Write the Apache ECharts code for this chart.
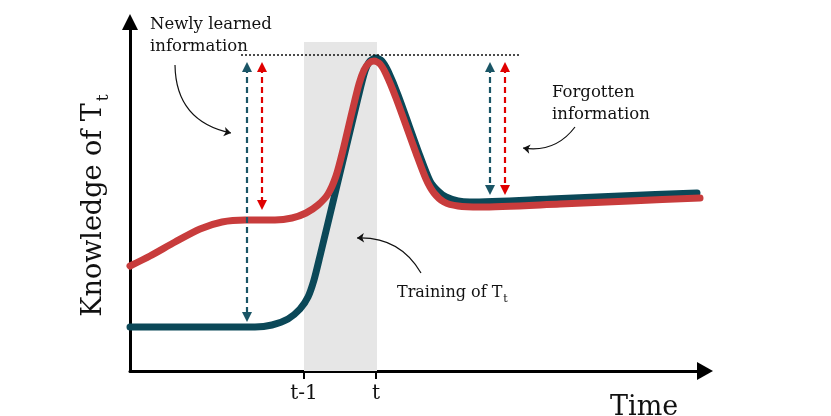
<!DOCTYPE html>
<html>
<head>
<meta charset="utf-8">
<script src="https://cdn.jsdelivr.net/npm/echarts@6/dist/echarts.min.js"></script>
<style>html,body{margin:0;padding:0;background:#fff}#c{width:831px;height:416px}</style>
</head>
<body>
<div id="c"></div>
<script>
// ---- data (conceptual units: x = time, y = knowledge) ----
var tickLabels = ['t-1', 't'];
var tickPositions = [174, 246];
var trainingBand = [174, 247];
var bandTop = 329;

var currentModel = [ // teal curve
  [0,44],[125,44],[142,46],[158,52],[170,62],[178,74],[184,91],[190,115],[203,169],
  [216,223],[228,273],[235,300],[240,310],[246,313],[252,310],[258,300],[268,276],
  [290,215],[300,190],[308,180],[316,174],[328,170],[340,169],[420,172],[490,175],[567,178]
];
var otherModel = [ // red curve
  [0,105],[20,115],[45,129],[70,142],[92,149],[115,151],[145,151],[162,153],[176,158],
  [188,166],[198,177],[206,195],[213,221],[222,259],[229,287],[234,301],[239,308],
  [244,310],[250,307],[256,297],[266,273],[286,218],[296,192],[304,178],[314,169],
  [328,165],[350,164],[430,167],[500,170],[570,173]
];
var peakLevel = 316;
var peakLine = [[111, peakLevel], [390, peakLevel]];
var tealArrows = [[[117,304],[117,54]], [[360,304],[360,181]]];
var redArrows = [[[132,304],[132,166]], [[375,304],[375,181]]];
var pointerArrows = [
  {coords: [[45,306],[101,238]], curveness: -0.4},
  {coords: [[445,244],[393,223]], curveness: 0.3},
  {coords: [[291,98],[227,133]], curveness: -0.3}
];

var FONT = 'DejaVu Serif';
var TEAL = '#0b4858';
var RED = '#c83c3c';

var chart = echarts.init(document.getElementById('c'));
chart.setOption({
  animation: false,
  grid: {left: 130, right: 126, top: 22, bottom: 45, outerBoundsMode: 'none', containLabel: false},
  xAxis: {
    type: 'value', min: 0, max: 575,
    axisLine: {show: true, symbol: ['none', 'triangle'], symbolSize: [18, 16], lineStyle: {color: '#000', width: 3}},
    axisTick: {show: true, customValues: tickPositions, length: 8, lineStyle: {color: '#000', width: 2}},
    axisLabel: {show: true, customValues: tickPositions, margin: 13, fontFamily: FONT, fontSize: 20, color: '#111',
      formatter: function (v) { var i = tickPositions.indexOf(v); return i >= 0 ? tickLabels[i] : ''; }},
    splitLine: {show: false},
    name: 'Time', nameLocation: 'end', nameGap: -95,
    nameTextStyle: {fontFamily: FONT, fontSize: 27, color: '#111', verticalAlign: 'top', padding: [23, 0, 0, 0]}
  },
  yAxis: {
    type: 'value', min: 0, max: 349,
    axisLine: {show: true, symbol: ['none', 'triangle'], symbolSize: [16, 16], lineStyle: {color: '#000', width: 3}},
    axisTick: {show: false}, axisLabel: {show: false}, splitLine: {show: false},
    name: '{a|Knowledge of T}{s|t}', nameLocation: 'middle', nameRotate: 90, nameGap: 18,
    nameTextStyle: {
      padding: [0, 18, 0, 0],
      rich: {
        a: {fontFamily: FONT, fontSize: 27, color: '#111'},
        s: {fontFamily: FONT, fontSize: 17, color: '#111', verticalAlign: 'bottom', padding: [20, 0, 0, 2]}
      }
    }
  },
  series: [
    {type: 'line', data: [], z: 1, silent: true,
      markArea: {silent: true, itemStyle: {color: '#e6e6e6'},
        data: [[{xAxis: trainingBand[0], yAxis: 0}, {xAxis: trainingBand[1], yAxis: bandTop}]]}},
    {type: 'line', name: 'teal', data: currentModel, z: 3, showSymbol: false, smooth: 0.25,
      lineStyle: {color: TEAL, width: 7, cap: 'round', join: 'round'}},
    {type: 'line', name: 'red', data: otherModel, z: 4, showSymbol: false, smooth: 0.25,
      lineStyle: {color: RED, width: 7, cap: 'round', join: 'round'}},
    {type: 'lines', coordinateSystem: 'cartesian2d', z: 5, symbol: ['none', 'none'],
      lineStyle: {color: '#111', width: 1.5, type: [2, 2], opacity: 1},
      data: [{coords: peakLine}]},
    {type: 'lines', coordinateSystem: 'cartesian2d', z: 6, symbol: ['triangle', 'triangle'], symbolSize: 10,
      lineStyle: {color: '#1a5566', width: 2.2, type: [6, 4], opacity: 1},
      data: tealArrows.map(function (c) { return {coords: c}; })},
    {type: 'lines', coordinateSystem: 'cartesian2d', z: 6, symbol: ['triangle', 'triangle'], symbolSize: 10,
      lineStyle: {color: '#e00000', width: 2.2, type: [6, 4], opacity: 1},
      data: redArrows.map(function (c) { return {coords: c}; })},
    {type: 'lines', coordinateSystem: 'cartesian2d', z: 6, symbol: ['none', 'arrow'], symbolSize: 7,
      lineStyle: {color: '#111', width: 1.2, opacity: 1},
      data: pointerArrows.map(function (p) { return {coords: p.coords, lineStyle: {curveness: p.curveness}}; })}
  ],
  graphic: [
    {type: 'text', left: 150, top: 14, z: 10,
      style: {text: 'Newly learned\ninformation', font: '16.5px "DejaVu Serif"', fill: '#111', lineHeight: 22}},
    {type: 'text', left: 552, top: 82, z: 10,
      style: {text: 'Forgotten\ninformation', font: '16.5px "DejaVu Serif"', fill: '#111', lineHeight: 22}},
    {type: 'text', left: 397, top: 285, z: 10,
      style: {text: '{a|Training of T}{s|t}', rich: {
        a: {fontFamily: FONT, fontSize: 16, fill: '#111'},
        s: {fontFamily: FONT, fontSize: 11, fill: '#111', verticalAlign: 'bottom', padding: [12, 0, 0, 1]}
      }}}
  ]
});
</script>
</body>
</html>
